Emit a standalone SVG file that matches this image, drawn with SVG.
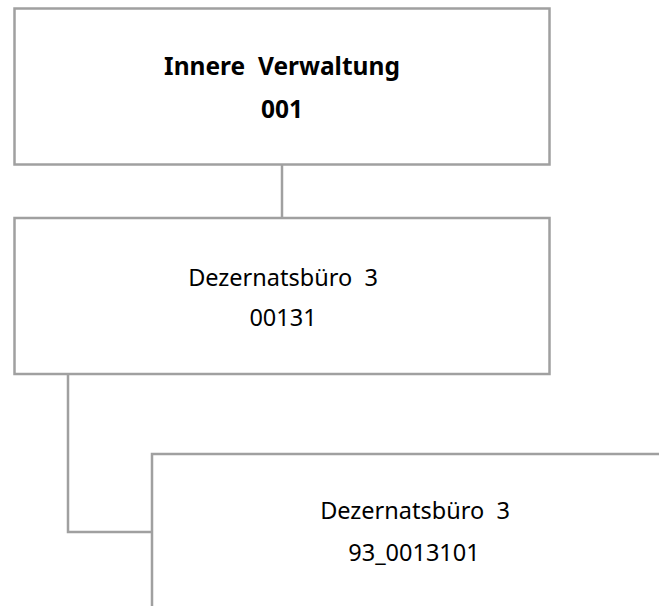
<svg xmlns="http://www.w3.org/2000/svg" width="659" height="606" viewBox="0 0 659 606">
<style>
.box{fill:#fff;stroke:#a0a0a0;stroke-width:2.5}
.con{fill:none;stroke:#a0a0a0;stroke-width:2.5}
text{font-family:"Noto Sans","Open Sans",sans-serif;fill:#000;text-anchor:middle;white-space:pre}
.b{font-weight:bold;font-size:24.5px}
.r{font-size:23.5px}
</style>
<rect width="659" height="606" fill="#fff"/>
<g id="connectors">
<line class="con" x1="282" y1="164" x2="282" y2="218"/>
<polyline class="con" points="68,374 68,532 152,532"/>
</g>
<g id="n1">
<rect class="box" x="14.5" y="8.5" width="535" height="156"/>
<text class="b" x="282" y="75">Innere  Verwaltung</text>
<text class="b" x="282" y="118">001</text>
</g>
<g id="n2">
<rect class="box" x="14.5" y="218" width="535" height="156"/>
<text class="r" x="283" y="286">Dezernatsbüro  3</text>
<text class="r" x="283" y="326">00131</text>
</g>
<g id="n3">
<rect class="box" x="152" y="454" width="535" height="170"/>
<text class="r" x="415" y="519">Dezernatsbüro  3</text>
<text class="r" x="414" y="561">93_0013101</text>
</g>
</svg>
